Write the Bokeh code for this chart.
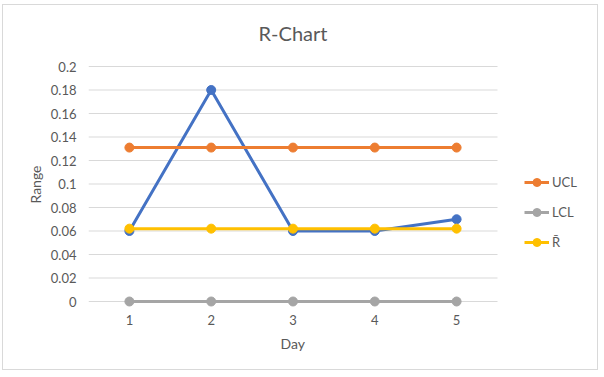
from bokeh.plotting import figure
from bokeh.models import Range1d, FixedTicker, Legend, LegendItem, Title, Label
from bokeh.embed import file_html
from bokeh.resources import INLINE

days = [1, 2, 3, 4, 5]
day_labels = ["1", "2", "3", "4", "5"]
ranges = [0.06, 0.18, 0.06, 0.06, 0.07]
ucl = [0.131, 0.131, 0.131, 0.131, 0.131]
lcl = [0.0, 0.0, 0.0, 0.0, 0.0]
rbar = [0.062, 0.062, 0.062, 0.062, 0.062]
y_ticks = [0, 0.02, 0.04, 0.06, 0.08, 0.1, 0.12, 0.14, 0.16, 0.18, 0.2]
y_labels = ["0", "0.02", "0.04", "0.06", "0.08", "0.1", "0.12", "0.14", "0.16", "0.18", "0.2"]

FONT = "Lato"
TXT = "#595959"

x_lo = days[0] - 0.5
x_hi = days[-1] + 0.5
PX_PER_DAY = 81.8          # plot-area width per category
FRAME_W = 507              # frame extends right to hold the legend
x_end = x_lo + FRAME_W / PX_PER_DAY
PX_PER_UNIT = 1175         # vertical pixels per unit of range
y_top = y_ticks[-1]
y_end = y_top + 56 / PX_PER_UNIT   # frame extends up to hold the title

p = figure(width=596, height=366, output_backend="svg", toolbar_location=None,
           x_range=Range1d(x_lo, x_end), y_range=Range1d(-7 / PX_PER_UNIT, y_end),
           min_border_left=85, min_border_right=4, min_border_top=5, min_border_bottom=63)
p.margin = (4, 0, 0, 2)
p.styles = {"border": "1px solid #d9d9d9"}

p.add_layout(Label(x=(x_lo + x_hi) / 2, y=y_top + 34 / PX_PER_UNIT, text="R-Chart",
                   text_align="center", text_baseline="middle", text_font=FONT,
                   text_font_size="20px", text_color=TXT))

p.outline_line_color = None
p.background_fill_color = "white"
p.border_fill_color = "white"
p.xgrid.visible = False
p.ygrid.visible = False

# horizontal gridlines over the category area only
p.segment(x0=[x_lo] * len(y_ticks), y0=y_ticks, x1=[x_hi] * len(y_ticks), y1=y_ticks,
          line_color="#d9d9d9", line_width=1)

p.yaxis.ticker = FixedTicker(ticks=y_ticks)
p.yaxis.major_label_overrides = {t_: l for t_, l in zip(y_ticks, y_labels)}
p.xaxis.ticker = FixedTicker(ticks=days)
p.xaxis.major_label_overrides = {d: l for d, l in zip(days, day_labels)}
for ax in (p.xaxis[0], p.yaxis[0]):
    ax.axis_line_color = None
    ax.major_tick_line_color = None
    ax.minor_tick_line_color = None
    ax.major_tick_out = 0
    ax.major_tick_in = 0
    ax.major_label_text_font = FONT
    ax.major_label_text_font_size = "13px"
    ax.major_label_text_color = TXT
p.yaxis.major_label_standoff = 12
p.xaxis.major_label_standoff = 6

yt = Title(text="Range", align="left", offset=105, text_font=FONT, text_font_size="14px",
           text_font_style="normal", text_color=TXT, standoff=8)
p.add_layout(yt, "left")

xt = Title(text="Day", align="left", offset=192, text_font=FONT, text_font_size="14px",
           text_font_style="normal", text_color=TXT, standoff=11)
p.add_layout(xt, "below")

series = [
    (ranges, "#4472C4", None),
    (ucl, "#ED7D31", "UCL"),
    (lcl, "#A5A5A5", "LCL"),
    (rbar, "#FFC000", "R\u0304"),
]
items = []
for vals, col, lab in series:
    ln = p.line(days, vals, line_color=col, line_width=3)
    sc = p.scatter(days, vals, size=9, fill_color=col, line_color=col)
    if lab:
        items.append(LegendItem(label=lab, renderers=[ln, sc]))

legend = Legend(items=items, location=(436, 56), orientation="vertical",
                border_line_color=None, background_fill_alpha=0,
                label_text_font=FONT, label_text_font_size="13px", label_text_color=TXT,
                glyph_width=25, glyph_height=20, label_height=20, spacing=10,
                label_standoff=3, padding=0, margin=0)
p.add_layout(legend, "center")

open("out.html", "w").write(file_html(p, INLINE))
